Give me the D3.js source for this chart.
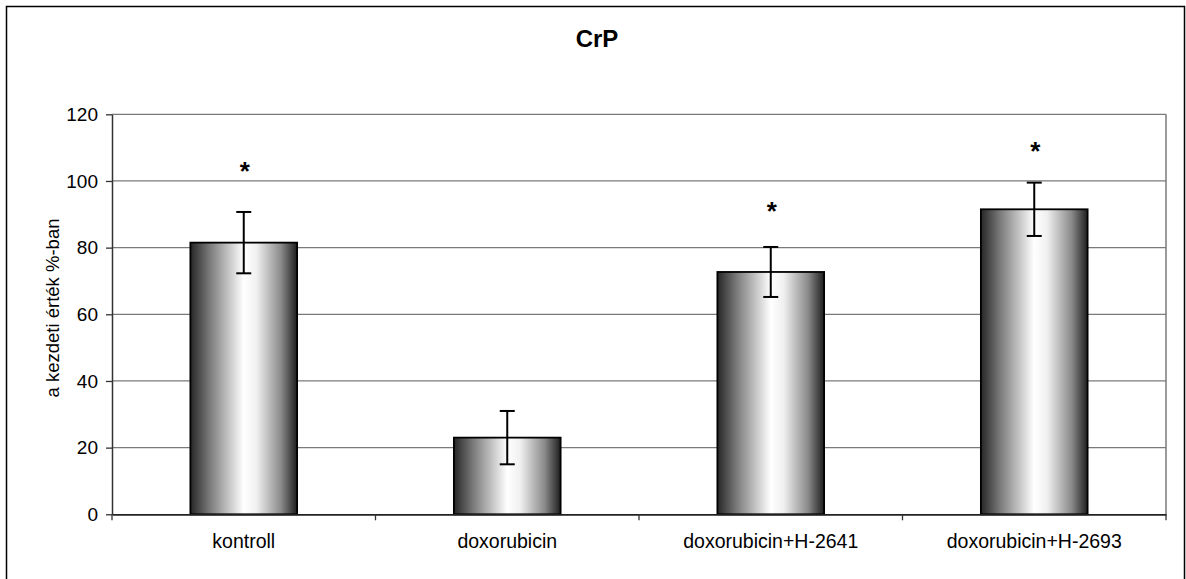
<!DOCTYPE html>
<html>
<head>
<meta charset="utf-8">
<script src="https://cdn.jsdelivr.net/npm/d3@7"></script>
<style>
  html, body { margin: 0; padding: 0; background: #fff; }
  svg { display: block; font-family: "Liberation Sans", Arial, sans-serif; }
</style>
</head>
<body>
<svg id="chart" width="1186" height="579"></svg>
<script>
const categories = ["kontroll", "doxorubicin", "doxorubicin+H-2641", "doxorubicin+H-2693"];
const values = [81.5, 23.0, 72.7, 91.5];
const errors = [9.2, 8.0, 7.5, 8.0];
const starLevels = [104.2, null, 92.2, 110.2];
const yTicks = [0, 20, 40, 60, 80, 100, 120];
const title = "CrP";
const yLabel = "a kezdeti érték %-ban";

const svg = d3.select("#chart");
const plot = { left: 112, right: 1166, top: 114.3, bottom: 514.3 };

// outer frame
svg.append("rect")
  .attr("x", 6.5).attr("y", 6.5)
  .attr("width", 1178).attr("height", 640)
  .attr("fill", "none").attr("stroke", "#000").attr("stroke-width", 1.5);

const defs = svg.append("defs");
const grad = defs.append("linearGradient").attr("id", "barGrad")
  .attr("x1", "0%").attr("x2", "100%").attr("y1", "0%").attr("y2", "0%");
[[0, "#262626"], [0.18, "#7a7a7a"], [0.5, "#ffffff"], [0.62, "#f0f0f0"], [0.85, "#8a8a8a"], [1, "#1e1e1e"]]
  .forEach(([o, c]) => grad.append("stop").attr("offset", o).attr("stop-color", c));

const x = d3.scaleBand().domain(categories).range([plot.left, plot.right]).paddingInner(0).paddingOuter(0);
const y = d3.scaleLinear().domain([0, 120]).range([plot.bottom, plot.top]);

// gridlines
svg.append("g").selectAll("line").data(yTicks.filter(t => t > 0)).join("line")
  .attr("x1", plot.left).attr("x2", plot.right)
  .attr("y1", d => y(d)).attr("y2", d => y(d))
  .attr("stroke", "#7a7a7a").attr("stroke-width", 1.3);

// right border
svg.append("line")
  .attr("x1", plot.right).attr("x2", plot.right)
  .attr("y1", plot.top).attr("y2", plot.bottom)
  .attr("stroke", "#7a7a7a").attr("stroke-width", 1.5);

// bars
const barW = x.bandwidth() * 0.405;
svg.append("g").selectAll("rect").data(categories).join("rect")
  .attr("x", d => x(d) + (x.bandwidth() - barW) / 2)
  .attr("width", barW)
  .attr("y", (d, i) => y(values[i]))
  .attr("height", (d, i) => y(0) - y(values[i]))
  .attr("fill", "url(#barGrad)")
  .attr("stroke", "#000").attr("stroke-width", 1.8);

// error bars
const eg = svg.append("g").attr("stroke", "#000").attr("stroke-width", 2);
categories.forEach((c, i) => {
  const cx = x(c) + x.bandwidth() / 2;
  const top = y(values[i] + errors[i]), bot = y(values[i] - errors[i]);
  eg.append("line").attr("x1", cx).attr("x2", cx).attr("y1", top).attr("y2", bot);
  eg.append("line").attr("x1", cx - 7.5).attr("x2", cx + 7.5).attr("y1", top).attr("y2", top);
  eg.append("line").attr("x1", cx - 7.5).attr("x2", cx + 7.5).attr("y1", bot).attr("y2", bot);
});

// stars
svg.append("g").selectAll("text").data(categories.map((c, i) => ({ c, s: starLevels[i] })).filter(d => d.s !== null))
  .join("text")
  .attr("x", d => x(d.c) + x.bandwidth() / 2 + 1)
  .attr("y", d => y(d.s) + 13)
  .attr("text-anchor", "middle")
  .attr("font-size", 26).attr("font-weight", "bold")
  .text("*");

// y axis
const yAxis = svg.append("g").attr("transform", `translate(${plot.left},0)`)
  .call(d3.axisLeft(y).tickValues(yTicks).tickSize(6).tickPadding(8).tickSizeOuter(0));
yAxis.select(".domain").attr("stroke", "#333").attr("stroke-width", 1.5);
yAxis.selectAll(".tick line").attr("stroke", "#333").attr("stroke-width", 1.3);
yAxis.selectAll(".tick text").attr("font-size", 19).attr("fill", "#000")
  .attr("font-family", "'Liberation Sans', Arial, sans-serif");

// x axis
const xAxis = svg.append("g").attr("transform", `translate(0,${plot.bottom})`)
  .call(d3.axisBottom(x).tickSize(0).tickPadding(20).tickSizeOuter(0));
xAxis.select(".domain").attr("stroke", "#222").attr("stroke-width", 1.8);
xAxis.selectAll(".tick text").attr("font-size", 19.5).attr("fill", "#000")
  .attr("font-family", "'Liberation Sans', Arial, sans-serif");
// category boundary ticks
const bounds = categories.map(c => x(c)).concat([plot.right]);
svg.append("g").selectAll("line").data(bounds).join("line")
  .attr("x1", d => d).attr("x2", d => d)
  .attr("y1", plot.bottom).attr("y2", plot.bottom + 6)
  .attr("stroke", "#333").attr("stroke-width", 1.3);

// title
svg.append("text").attr("x", 597).attr("y", 47)
  .attr("text-anchor", "middle").attr("font-size", 24).attr("font-weight", "bold")
  .text(title);

// y label
svg.append("text")
  .attr("transform", "translate(59,308) rotate(-90)")
  .attr("text-anchor", "middle").attr("font-size", 18.5)
  .text(yLabel);
</script>
</body>
</html>
